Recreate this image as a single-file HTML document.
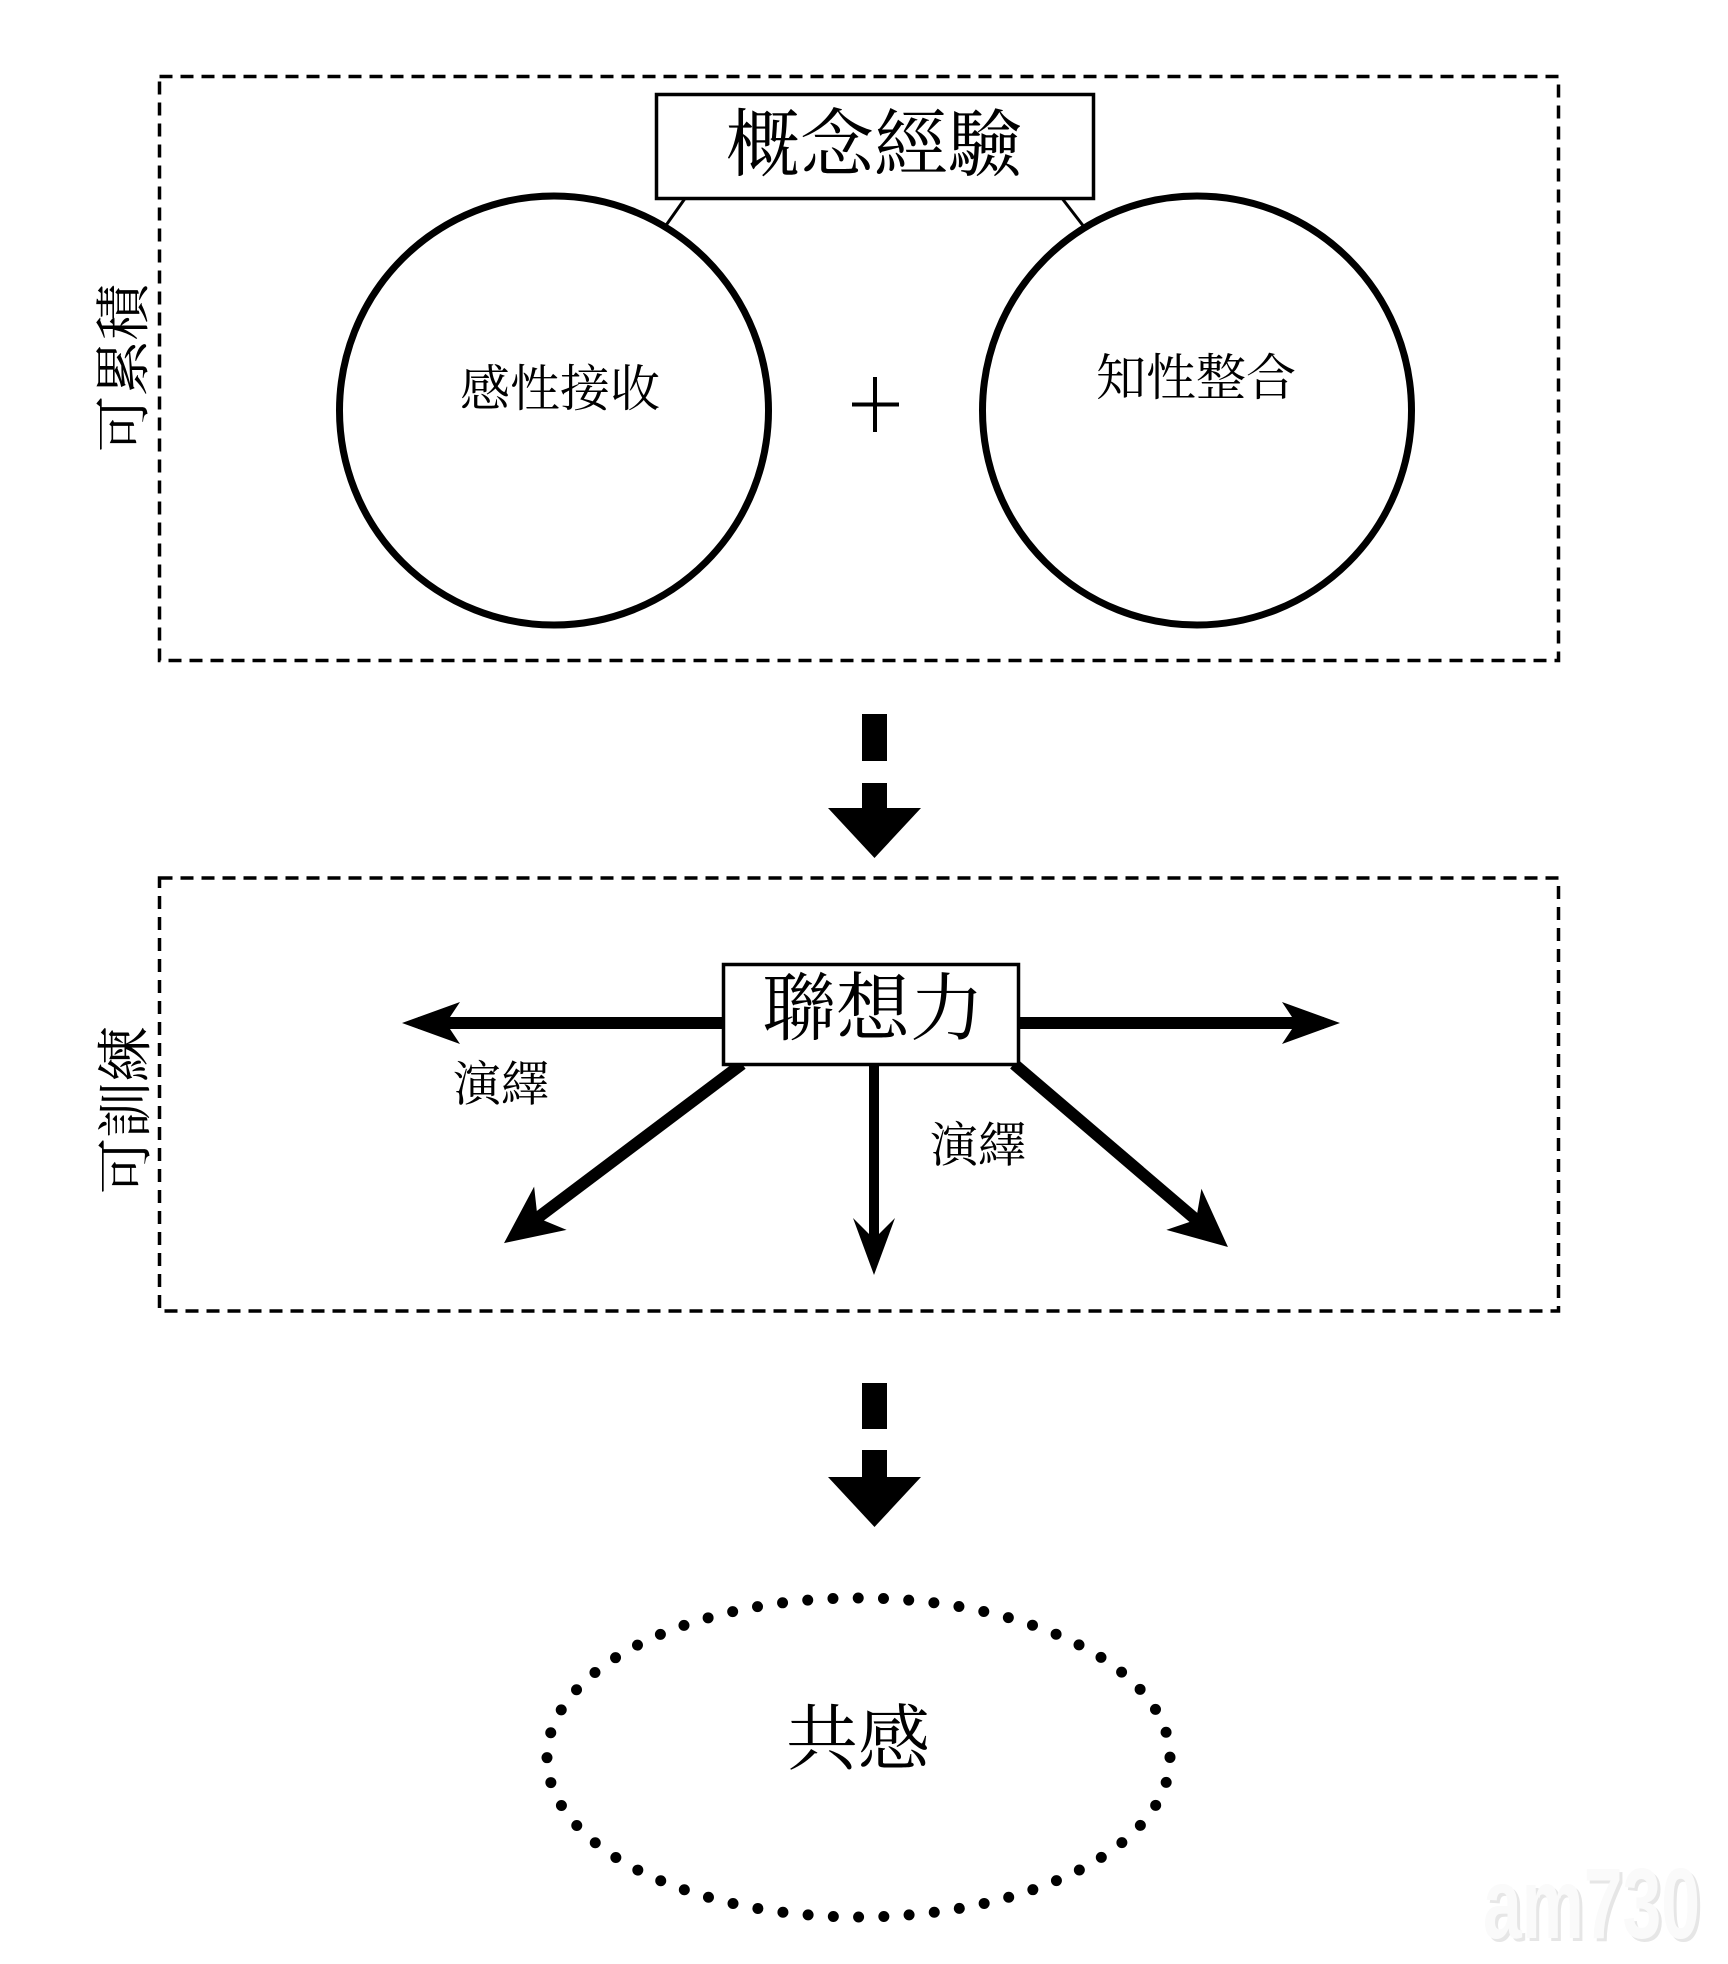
<!DOCTYPE html>
<html>
<head>
<meta charset="utf-8">
<style>
  html, body { margin:0; padding:0; background:#ffffff; }
  body { width:1728px; height:1964px; overflow:hidden; }
  svg { display:block; }
  .cjk { font-family: "Liberation Serif", "Noto Serif CJK SC", "Noto Serif CJK TC", serif; fill:#000; }
</style>
</head>
<body>
<svg width="1728" height="1964" viewBox="0 0 1728 1964" xmlns="http://www.w3.org/2000/svg">
  <defs>
    <marker id="hHead" markerUnits="userSpaceOnUse" viewBox="-70 -35 90 70" markerWidth="90" markerHeight="70" refX="-16" refY="0" orient="auto" overflow="visible">
      <path d="M0,0 L-58,-21 L-44,0 L-58,21 Z" fill="#000"/>
    </marker>
    <marker id="dHead" markerUnits="userSpaceOnUse" viewBox="-70 -35 90 70" markerWidth="90" markerHeight="70" refX="-16" refY="0" orient="auto" overflow="visible">
      <path d="M0,0 L-58,-27 L-42,0 L-58,27 Z" fill="#000"/>
    </marker>
    <marker id="vHead" markerUnits="userSpaceOnUse" viewBox="-70 -35 90 70" markerWidth="90" markerHeight="70" refX="-16" refY="0" orient="auto" overflow="visible">
      <path d="M0,0 L-57,-21 L-36,0 L-57,21 Z" fill="#000"/>
    </marker>
  </defs>

  <!-- ===== Top dashed box ===== -->
  <rect x="159.5" y="76.5" width="1399" height="584" fill="none" stroke="#000" stroke-width="3.5" stroke-dasharray="13 8"/>
  <text class="cjk" font-size="56" text-anchor="middle" dominant-baseline="central" transform="translate(125,368) rotate(-90)">可累積</text>

  <!-- connectors -->
  <line x1="686" y1="197" x2="662" y2="231" stroke="#000" stroke-width="3"/>
  <line x1="1061" y1="197" x2="1088" y2="232" stroke="#000" stroke-width="3"/>

  <!-- circles -->
  <circle cx="554" cy="410.5" r="214.5" fill="#fff" stroke="#000" stroke-width="7"/>
  <circle cx="1197" cy="410.5" r="214.5" fill="#fff" stroke="#000" stroke-width="7"/>
  <text class="cjk" x="560" y="389" font-size="50" text-anchor="middle" dominant-baseline="central">感性接收</text>
  <text class="cjk" x="1196" y="378" font-size="50" text-anchor="middle" dominant-baseline="central">知性整合</text>

  <!-- plus -->
  <line x1="875" y1="377" x2="875" y2="432" stroke="#000" stroke-width="4"/>
  <line x1="852" y1="404.5" x2="899" y2="404.5" stroke="#000" stroke-width="4"/>

  <!-- concept box -->
  <rect x="656.5" y="94.5" width="437" height="104" fill="#fff" stroke="#000" stroke-width="3.5"/>
  <text class="cjk" x="874" y="146" font-size="74" text-anchor="middle" dominant-baseline="central">概念經驗</text>

  <!-- ===== Big dashed arrow 1 ===== -->
  <rect x="862" y="714" width="25" height="47" fill="#000"/>
  <rect x="862" y="783" width="25" height="27" fill="#000"/>
  <polygon points="828,808 921,808 874.5,858" fill="#000"/>

  <!-- ===== Middle dashed box ===== -->
  <rect x="159.5" y="878" width="1399" height="433" fill="none" stroke="#000" stroke-width="3.5" stroke-dasharray="13 8"/>
  <text class="cjk" font-size="56" text-anchor="middle" dominant-baseline="central" transform="translate(127,1110) rotate(-90)">可訓練</text>

  <!-- arrows from 聯想力 -->
  <line x1="725" y1="1023" x2="418" y2="1023" stroke="#000" stroke-width="12" marker-end="url(#hHead)"/>
  <line x1="1017" y1="1023" x2="1324" y2="1023" stroke="#000" stroke-width="12" marker-end="url(#hHead)"/>
  <line x1="874" y1="1060" x2="874" y2="1259" stroke="#000" stroke-width="10" marker-end="url(#vHead)"/>
  <line x1="742" y1="1064" x2="516.8" y2="1233.5" stroke="#000" stroke-width="12" marker-end="url(#dHead)"/>
  <line x1="1014" y1="1064" x2="1215.8" y2="1236.6" stroke="#000" stroke-width="12" marker-end="url(#dHead)"/>

  <!-- 聯想力 box -->
  <rect x="723.5" y="964.5" width="295" height="100" fill="#fff" stroke="#000" stroke-width="3.5"/>
  <text class="cjk" x="873" y="1010" font-size="74" text-anchor="middle" dominant-baseline="central">聯想力</text>

  <!-- 演繹 labels -->
  <text class="cjk" x="501" y="1085" font-size="48" text-anchor="middle" dominant-baseline="central">演繹</text>
  <text class="cjk" x="978" y="1146" font-size="48" text-anchor="middle" dominant-baseline="central">演繹</text>

  <!-- ===== Big dashed arrow 2 ===== -->
  <rect x="862" y="1383" width="25" height="46" fill="#000"/>
  <rect x="862" y="1450" width="25" height="29" fill="#000"/>
  <polygon points="828,1477 921,1477 874.5,1527" fill="#000"/>

  <!-- ===== Dotted ellipse ===== -->
  <ellipse cx="858.5" cy="1757.5" rx="311.5" ry="159.5" fill="none" stroke="#000" stroke-width="11" stroke-linecap="round" pathLength="60" stroke-dasharray="0 1"/>
  <text class="cjk" x="858" y="1740" font-size="72" text-anchor="middle" dominant-baseline="central">共感</text>

  <!-- watermark -->
  <text x="1486" y="1941" font-family="'Liberation Sans',sans-serif" font-weight="bold" font-size="100" fill="#e6e6e6" textLength="217" lengthAdjust="spacingAndGlyphs">am730</text>
  <text x="1483" y="1938" font-family="'Liberation Sans',sans-serif" font-weight="bold" font-size="100" fill="#fafafa" textLength="217" lengthAdjust="spacingAndGlyphs">am730</text>
</svg>
</body>
</html>
